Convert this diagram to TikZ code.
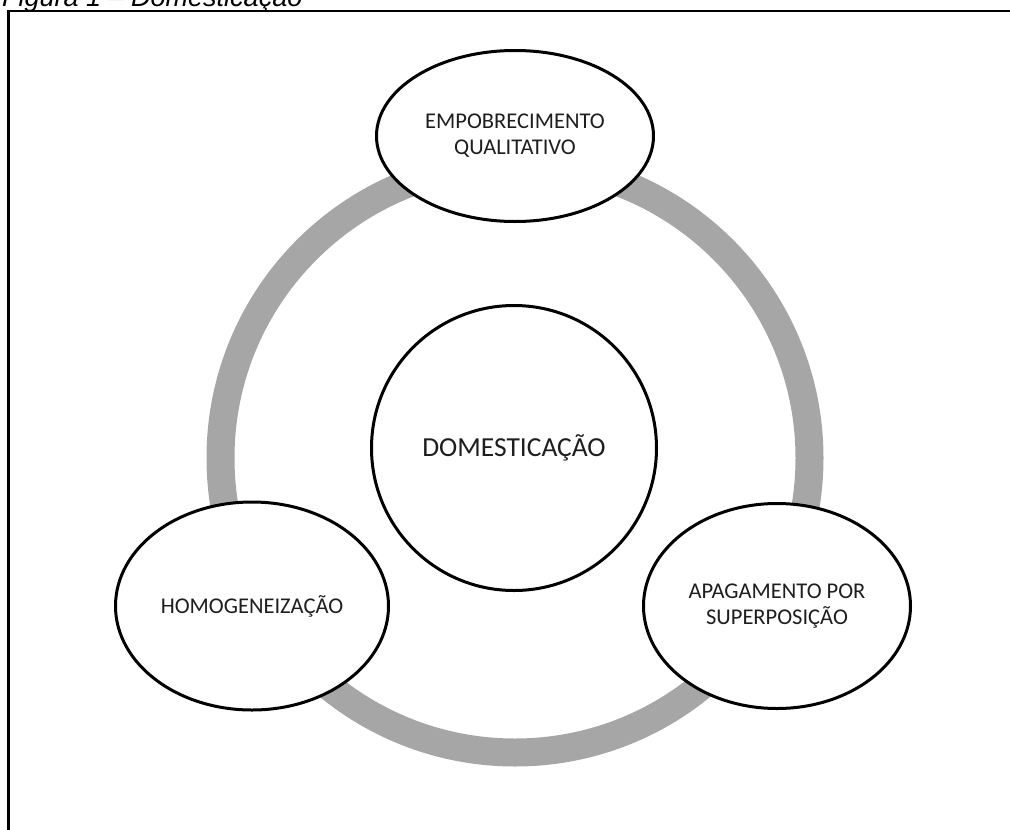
\documentclass[tikz,border=0pt]{standalone}
\usepackage{fontspec}
\setmainfont{Carlito}
\newfontfamily\arialfont{Liberation Sans}
\usetikzlibrary{shapes.geometric}
\definecolor{ringgray}{RGB}{166, 166, 166}
\definecolor{textgray}{RGB}{30, 30, 30}

\begin{document}
\begin{tikzpicture}[x=1pt, y=-1pt,
    bubble/.style={draw=black, fill=white, line width=3pt, ellipse, inner sep=0pt,
                   align=center, text=textgray, font=\fontsize{22.5}{26}\selectfont}]
            \clip (0,0) rectangle (1010,830);
            \node[anchor=base west, inner sep=0pt, font=\arialfont\itshape\fontsize{27}{30}\selectfont]
                 (titulo) at (2,6) {Figura 1 – Domesticação};
            \draw[color=black,     line width=2.5pt]                      (8.5,830) -- (8.5,11) -- (1010,11);
            \draw[color=ringgray,  line width=28pt]                       (515,458) circle (294.5pt);
            \node[bubble, minimum width=277pt, minimum height=171pt]      (empobrecimento) at (515,136)
                 {EMPOBRECIMENTO\\QUALITATIVO};
            \node[bubble, minimum width=273pt, minimum height=208pt]      (homogeneizacao) at (252,606)
                 {HOMOGENEIZAÇÃO};
            \node[bubble, minimum width=267pt, minimum height=205pt]      (apagamento)     at (777,606)
                 {APAGAMENTO POR\\SUPERPOSIÇÃO};
            \node[bubble, circle, minimum size=285pt, font=\fontsize{27.5}{30}\selectfont]
                 (domesticacao) at (514,448) {DOMESTICAÇÃO};
\end{tikzpicture}
\end{document}
